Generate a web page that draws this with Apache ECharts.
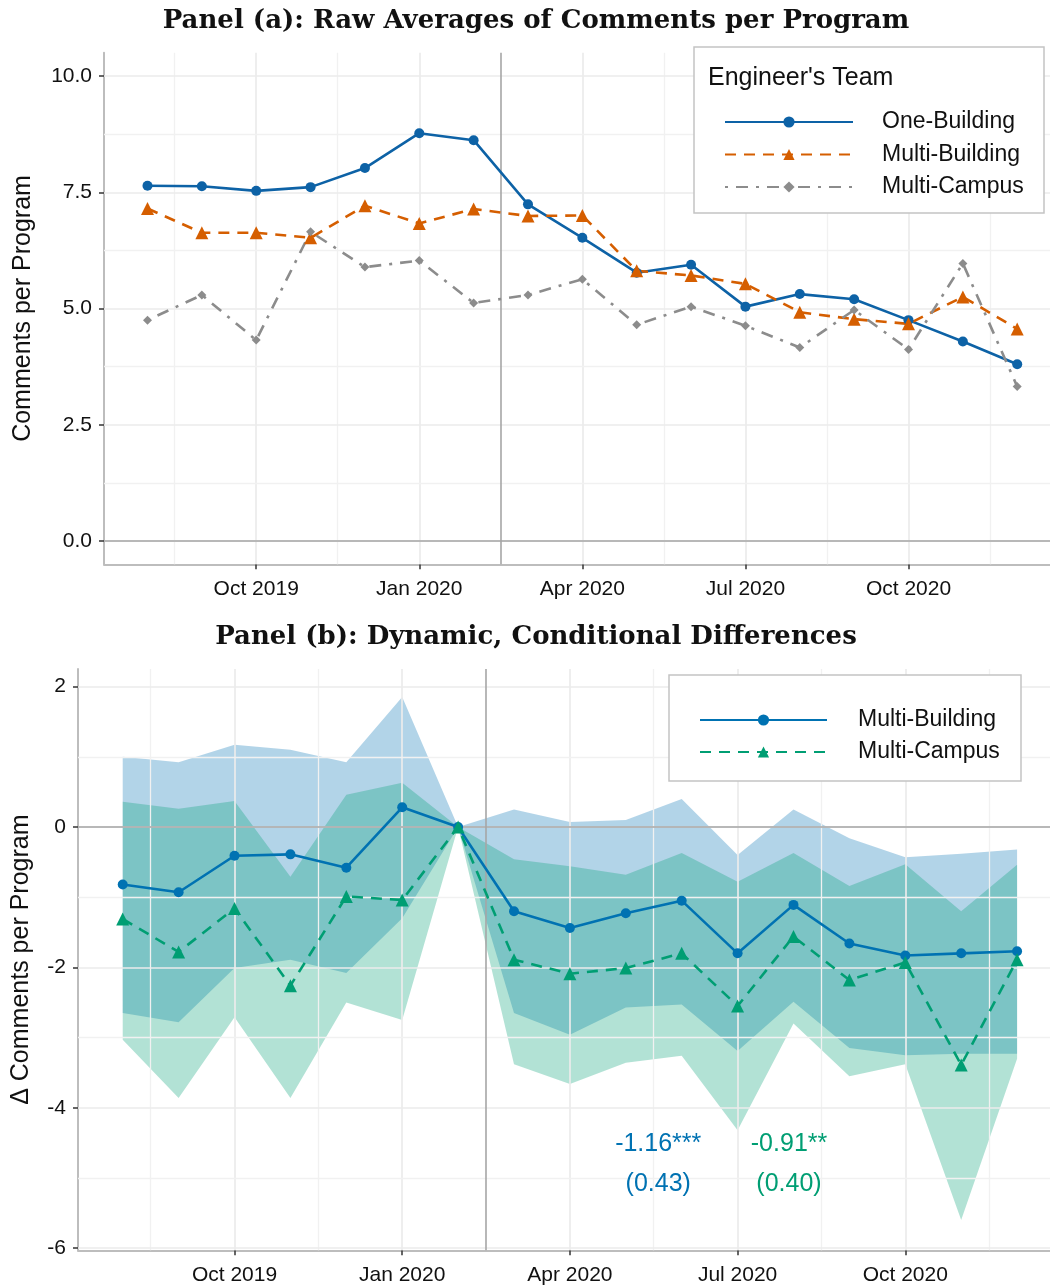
<!DOCTYPE html>
<html><head><meta charset="utf-8">
<script src="https://cdn.jsdelivr.net/npm/echarts@6/dist/echarts.min.js"></script>
<style>html,body{margin:0;padding:0;background:#fff}#c{width:1050px;height:1285px}</style>
</head><body><div id="c"></div>
<script>
// ---------- data ----------
const months = ['Aug 2019','Sep 2019','Oct 2019','Nov 2019','Dec 2019','Jan 2020','Feb 2020','Mar 2020','Apr 2020','May 2020','Jun 2020','Jul 2020','Aug 2020','Sep 2020','Oct 2020','Nov 2020','Dec 2020'];
const xTicks = [2, 5, 8, 11, 14];          // positions of labelled months
const xMinor = [0.5, 3.5, 9.5, 12.5, 15.5];
const breakX = 6.5;

// Panel (a)
const oneBuilding   = [7.64, 7.63, 7.53, 7.61, 8.02, 8.77, 8.62, 7.24, 6.52, 5.77, 5.94, 5.04, 5.31, 5.20, 4.75, 4.29, 3.80];
const multiBuilding = [7.15, 6.63, 6.63, 6.52, 7.21, 6.83, 7.14, 6.99, 7.00, 5.81, 5.71, 5.53, 4.92, 4.77, 4.67, 5.25, 4.56];
const multiCampus   = [4.75, 5.29, 4.32, 6.65, 5.89, 6.03, 5.12, 5.29, 5.63, 4.65, 5.04, 4.63, 4.16, 4.97, 4.12, 5.97, 3.32];
const yTicksA = [0, 2.5, 5, 7.5, 10];
const yMinorA = [1.25, 3.75, 6.25, 8.75];

// Panel (b)
const mbEst = [-0.82, -0.93, -0.41, -0.39, -0.58, 0.28, 0, -1.20, -1.44, -1.23, -1.05, -1.80, -1.11, -1.66, -1.83, -1.80, -1.77];
const mbHi  = [1.00, 0.92, 1.17, 1.10, 0.92, 1.85, 0, 0.25, 0.07, 0.10, 0.40, -0.40, 0.25, -0.16, -0.43, -0.38, -0.32];
const mbLo  = [-2.65, -2.78, -2.01, -1.89, -2.08, -1.30, 0, -2.65, -2.96, -2.57, -2.53, -3.19, -2.49, -3.15, -3.25, -3.23, -3.23];
const mcEst = [-1.31, -1.78, -1.16, -2.26, -0.99, -1.04, 0, -1.89, -2.09, -2.01, -1.80, -2.55, -1.56, -2.18, -1.93, -3.39, -1.89];
const mcHi  = [0.36, 0.26, 0.37, -0.71, 0.46, 0.63, 0, -0.46, -0.56, -0.68, -0.37, -0.78, -0.37, -0.84, -0.53, -1.20, -0.54];
const mcLo  = [-3.03, -3.86, -2.71, -3.86, -2.50, -2.75, 0, -3.38, -3.66, -3.36, -3.26, -4.32, -2.80, -3.55, -3.38, -5.60, -3.30];
const yTicksB = [-6, -4, -2, 0, 2];
const yMinorB = [-5, -3, -1, 1];
const annotations = [
  {x: 9.58, y: -4.80, text: '-1.16***\n(0.43)', color: '#0072B2'},
  {x: 11.92, y: -4.80, text: '-0.91**\n(0.40)', color: '#009E73'}
];

// ---------- helpers ----------
const SANS = '"Liberation Sans", Arial, sans-serif';
const xs = months.map((_, i) => i);
const pairs = vals => xs.map((x, i) => [x, vals[i]]);
const MAJ = {color: '#ebebeb', width: 1.7, type: 'solid'};
const MIN = {color: '#f1f1f1', width: 1.3, type: 'solid'};
const REF = {color: '#a6a6a6', width: 1.6, type: 'solid'};

function gridSeries(gi, yMaj, yMin) {
  const d = [];
  xTicks.forEach(v => d.push({xAxis: v, lineStyle: MAJ}));
  xMinor.forEach(v => d.push({xAxis: v, lineStyle: MIN}));
  yMaj.forEach(v => d.push({yAxis: v, lineStyle: MAJ}));
  yMin.forEach(v => d.push({yAxis: v, lineStyle: MIN}));
  return {
    type: 'line', xAxisIndex: gi, yAxisIndex: gi, data: [[-10, -100]], showSymbol: false,
    lineStyle: {opacity: 0}, silent: true, z: 1, animation: false,
    markLine: {silent: true, symbol: ['none', 'none'], label: {show: false}, animation: false, data: d}
  };
}
function refSeries(gi) {
  return {
    type: 'line', xAxisIndex: gi, yAxisIndex: gi, data: [[-10, -100]], showSymbol: false,
    lineStyle: {opacity: 0}, silent: true, z: 2, animation: false,
    markLine: {silent: true, symbol: ['none', 'none'], label: {show: false}, animation: false,
      data: [{xAxis: breakX, lineStyle: REF}, {yAxis: 0, lineStyle: REF}]}
  };
}
function band(gi, hi, lo, fill) {
  return {
    type: 'custom', xAxisIndex: gi, yAxisIndex: gi, data: [[0, 0]], silent: true, z: 3, animation: false,
    renderItem: (params, api) => {
      const pts = [];
      xs.forEach((x, i) => pts.push(api.coord([x, hi[i]])));
      for (let i = xs.length - 1; i >= 0; i--) pts.push(api.coord([xs[i], lo[i]]));
      return {type: 'polygon', shape: {points: pts}, style: {fill: fill}};
    }
  };
}
function lineSeries(gi, name, vals, color, symbol, size, dash) {
  return {
    type: 'line', name: name, xAxisIndex: gi, yAxisIndex: gi, data: pairs(vals),
    symbol: symbol, symbolSize: size, showSymbol: true, z: 5, animation: false,
    lineStyle: {color: color, width: 2.6, type: dash || 'solid'},
    itemStyle: {color: color}
  };
}
function xAxisDef(gi) {
  return {
    type: 'value', gridIndex: gi, min: -0.8, max: 16.8,
    splitLine: {show: false},
    axisLine: {show: true, onZero: false, lineStyle: {color: '#bdbdbd', width: 2}},
    axisTick: {show: true, customValues: xTicks, length: 5, lineStyle: {color: '#333', width: 1.5}},
    axisLabel: {customValues: xTicks, formatter: v => months[Math.round(v)], fontFamily: SANS, fontSize: 21, color: '#111', margin: 14}
  };
}
function yAxisDef(gi, min, max, ticks, fmt, name, gap) {
  return {
    type: 'value', gridIndex: gi, min: min, max: max,
    splitLine: {show: false},
    axisLine: {show: true, onZero: false, lineStyle: {color: '#bdbdbd', width: 2}},
    axisTick: {show: true, customValues: ticks, length: 5, lineStyle: {color: '#333', width: 1.5}},
    axisLabel: {customValues: ticks, formatter: fmt, fontFamily: SANS, fontSize: 21, color: '#111', margin: 12},
    name: name, nameLocation: 'middle', nameRotate: 90, nameGap: gap,
    nameTextStyle: {fontFamily: SANS, fontSize: 25, color: '#111'}
  };
}
const legendNames = {'Multi-Building (b)': 'Multi-Building', 'Multi-Campus (b)': 'Multi-Campus'};

const chart = echarts.init(document.getElementById('c'), null, {renderer: 'canvas'});
chart.setOption({
  animation: false,
  backgroundColor: '#ffffff',
  grid: [
    {left: 104, top: 52.75, width: 956.7, height: 511.5, outerBoundsMode: 'none', containLabel: false},
    {left: 78, top: 669, width: 983.8, height: 581.3, outerBoundsMode: 'none', containLabel: false}
  ],
  xAxis: [xAxisDef(0), xAxisDef(1)],
  yAxis: [
    yAxisDef(0, -0.5, 10.5, yTicksA, v => v.toFixed(1), 'Comments per Program', 68),
    yAxisDef(1, -6.03, 2.25, yTicksB, v => String(v), 'Δ Comments per Program', 44)
  ],
  legend: [
    {data: ['One-Building', 'Multi-Building', 'Multi-Campus'], orient: 'vertical', left: 724, top: 110, padding: 0,
     itemWidth: 128, itemHeight: 14, itemGap: 8.5, selectedMode: false, z: 8,
     textStyle: {fontFamily: SANS, fontSize: 23, color: '#111', lineHeight: 24, padding: [0, 0, 0, 24]}},
    {data: ['Multi-Building (b)', 'Multi-Campus (b)'], orient: 'vertical', left: 699, top: 708, padding: 0,
     itemWidth: 127, itemHeight: 14, itemGap: 8, selectedMode: false, z: 8,
     formatter: n => legendNames[n] || n,
     textStyle: {fontFamily: SANS, fontSize: 23, color: '#111', lineHeight: 24, padding: [0, 0, 0, 26]}}
  ],
  graphic: [
    {type: 'text', x: 536, y: 21, z: 10, style: {text: 'Panel (a): Raw Averages of Comments per Program', font: 'bold 26px "DejaVu Serif", serif', fill: '#111', align: 'center', verticalAlign: 'middle'}},
    {type: 'text', x: 536, y: 637, z: 10, style: {text: 'Panel (b): Dynamic, Conditional Differences', font: 'bold 26px "DejaVu Serif", serif', fill: '#111', align: 'center', verticalAlign: 'middle'}},
    {type: 'rect', z: 6, shape: {x: 694, y: 47, width: 350, height: 166}, style: {fill: '#fff', stroke: '#c4c4c4', lineWidth: 1.5}},
    {type: 'text', x: 708, y: 78, z: 10, style: {text: "Engineer's Team", font: '25px "Liberation Sans", Arial, sans-serif', fill: '#111', align: 'left', verticalAlign: 'middle'}},
    {type: 'rect', z: 6, shape: {x: 669, y: 675, width: 352, height: 106}, style: {fill: '#fff', stroke: '#c4c4c4', lineWidth: 1.5}}
  ],
  series: [
    gridSeries(0, yTicksA, yMinorA),
    refSeries(0),
    lineSeries(0, 'One-Building', oneBuilding, '#0d62a6', 'circle', 10),
    lineSeries(0, 'Multi-Building', multiBuilding, '#D55E00', 'triangle', 13, [11, 8]),
    lineSeries(0, 'Multi-Campus', multiCampus, '#8c8c8c', 'diamond', 9, [3, 8, 12, 8]),

    gridSeries(1, yTicksB, yMinorB),
    refSeries(1),
    band(1, mbHi, mbLo, 'rgba(0,114,178,0.3)'),
    band(1, mcHi, mcLo, 'rgba(0,158,115,0.3)'),
    lineSeries(1, 'Multi-Building (b)', mbEst, '#0072B2', 'circle', 10),
    lineSeries(1, 'Multi-Campus (b)', mcEst, '#009E73', 'triangle', 13, [11, 8]),
    {
      type: 'line', xAxisIndex: 1, yAxisIndex: 1, data: [[-10, -100]], showSymbol: false,
      lineStyle: {opacity: 0}, silent: true, z: 7, animation: false,
      markPoint: {symbol: 'circle', symbolSize: 0, silent: true, animation: false,
        data: annotations.map(a => ({coord: [a.x, a.y],
          label: {show: true, position: 'inside', formatter: a.text, color: a.color, fontFamily: SANS, fontSize: 25, lineHeight: 40, align: 'center', verticalAlign: 'middle'}}))}
    }
  ]
});
</script></body></html>
